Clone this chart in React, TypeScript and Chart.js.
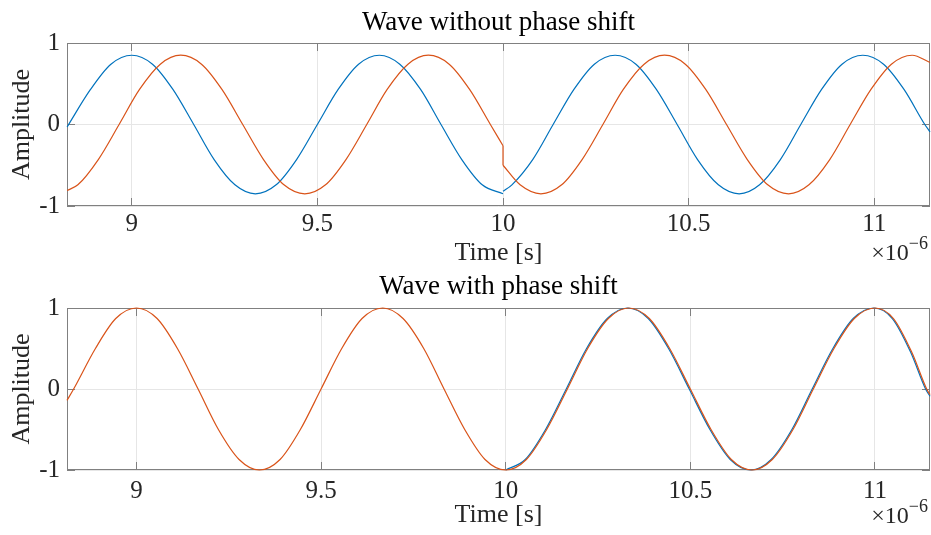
import React, { useEffect, useRef } from "react";
import { Chart, registerables } from "chart.js";

Chart.register(...registerables);

// ---------- text ----------
const TOP_TITLE = "Wave without phase shift";
const BOTTOM_TITLE = "Wave with phase shift";
const X_LABEL = "Time [s]";
const Y_LABEL = "Amplitude";
const X_EXP_BASE = "\u00d710";
const X_EXP_POWER = "\u22126";

// ---------- ticks (time in units of 1e-6 s) ----------
const xTickValues = [9, 9.5, 10, 10.5, 11];
const xTickLabels = ["9", "9.5", "10", "10.5", "11"];
const yTickValues = [-1, 0, 1];
const yTickLabels = ["-1", "0", "1"];

const topXRange = [8.8257, 11.15];
const bottomXRange = [8.812, 11.149];

// ---------- top plot: wave without phase shift ----------
const topBlueBeforeT = [8.826, 8.889, 8.944, 9.0, 9.056, 9.111, 9.167, 9.222, 9.278, 9.333, 9.389, 9.444, 9.5, 9.556, 9.611, 9.667, 9.722, 9.778, 9.833, 9.889, 9.944, 10.0];
const topBlueBeforeY = [-0.03, 0.43, 0.74, 0.85, 0.74, 0.43, 0, -0.43, -0.74, -0.85, -0.74, -0.43, 0, 0.43, 0.74, 0.85, 0.74, 0.43, 0, -0.43, -0.74, -0.85];

const topBlueAfterT = [10.0, 10.024, 10.08, 10.135, 10.191, 10.246, 10.302, 10.358, 10.413, 10.469, 10.524, 10.58, 10.636, 10.691, 10.747, 10.802, 10.858, 10.913, 10.969, 11.025, 11.08, 11.136, 11.15];
const topBlueAfterY = [-0.82, -0.74, -0.43, 0, 0.43, 0.74, 0.85, 0.74, 0.43, 0, -0.43, -0.74, -0.85, -0.74, -0.43, 0, 0.43, 0.74, 0.85, 0.74, 0.43, 0, -0.09];

const topOrangeBeforeT = [8.826, 8.855, 8.91, 8.966, 9.021, 9.077, 9.132, 9.188, 9.243, 9.299, 9.355, 9.41, 9.466, 9.522, 9.577, 9.633, 9.688, 9.744, 9.799, 9.855, 9.91, 9.966, 10.0];
const topOrangeBeforeY = [-0.81, -0.74, -0.43, 0, 0.43, 0.74, 0.85, 0.74, 0.43, 0, -0.43, -0.74, -0.85, -0.74, -0.43, 0, 0.43, 0.74, 0.85, 0.74, 0.43, 0, -0.26];

const topOrangeJumpT = [10.0, 10.0];
const topOrangeJumpY = [-0.26, -0.5];

const topOrangeAfterT = [10.0, 10.046, 10.102, 10.158, 10.213, 10.269, 10.324, 10.38, 10.435, 10.491, 10.546, 10.602, 10.658, 10.713, 10.769, 10.824, 10.88, 10.935, 10.991, 11.046, 11.102, 11.15];
const topOrangeAfterY = [-0.5, -0.74, -0.85, -0.74, -0.43, 0, 0.43, 0.74, 0.85, 0.74, 0.43, 0, -0.43, -0.74, -0.85, -0.74, -0.43, 0, 0.43, 0.74, 0.85, 0.76];

// ---------- bottom plot: wave with phase shift ----------
const bottomOrangeT = [8.812, 8.83, 8.889, 8.944, 9.0, 9.056, 9.111, 9.167, 9.222, 9.278, 9.333, 9.389, 9.444, 9.5, 9.556, 9.611, 9.667, 9.722, 9.778, 9.833, 9.889, 9.944, 10.0, 10.056, 10.111, 10.167, 10.222, 10.278, 10.333, 10.389, 10.444, 10.5, 10.556, 10.611, 10.667, 10.722, 10.778, 10.833, 10.889, 10.944, 11.0, 11.05, 11.1, 11.14, 11.149];
const bottomOrangeY = [-0.14, 0, 0.5, 0.87, 1, 0.87, 0.5, 0, -0.5, -0.87, -1, -0.87, -0.5, 0, 0.5, 0.87, 1, 0.87, 0.5, 0, -0.5, -0.87, -1, -0.87, -0.5, 0, 0.5, 0.87, 1, 0.87, 0.5, 0, -0.5, -0.87, -1, -0.87, -0.5, 0, 0.5, 0.87, 1, 0.87, 0.45, 0, -0.07];

const bottomBlueT = [10.0, 10.053, 10.108, 10.164, 10.219, 10.275, 10.33, 10.386, 10.441, 10.497, 10.553, 10.608, 10.664, 10.719, 10.775, 10.83, 10.886, 10.941, 10.997, 11.047, 11.097, 11.137, 11.149];
const bottomBlueY = [-1, -0.87, -0.5, 0, 0.5, 0.87, 1, 0.87, 0.5, 0, -0.5, -0.87, -1, -0.87, -0.5, 0, 0.5, 0.87, 1, 0.87, 0.45, 0, -0.09];

// ---------- style ----------
const BLUE = "#0072BD";
const ORANGE = "#D95319";
const GRID = "#e6e6e6";
const BOX = "#808080";
const TXT = "#262626";
const FONT = "'Liberation Serif', 'Times New Roman', serif";
const TICK_LEN = 8;

Chart.defaults.font.family = FONT;

const pts = (t: number[], y: number[]) => t.map((x, i) => ({ x, y: y[i] }));

const line = (label: string, t: number[], y: number[], color: string, order: number, smooth = true) => ({
  label,
  data: pts(t, y),
  borderColor: color,
  backgroundColor: color,
  borderWidth: 1.2,
  pointRadius: 0,
  fill: false,
  order,
  clip: 3,
  tension: 0,
  cubicInterpolationMode: smooth ? "monotone" : "default",
});

const align = (p: number) => Math.round(p - 0.5) + 0.5;

const framePlugin = {
  id: "matlabFrame",
  beforeDatasetsDraw(chart: any) {
    const { ctx, chartArea: a, scales } = chart;
    ctx.save();
    ctx.strokeStyle = BOX;
    ctx.lineWidth = 1;
    ctx.strokeRect(a.left + 0.5, a.top + 0.5, a.right - a.left - 1, a.bottom - a.top - 1);
    ctx.beginPath();
    for (const t of scales.x.ticks) {
      const px = align(scales.x.getPixelForValue(t.value));
      ctx.moveTo(px, a.bottom);
      ctx.lineTo(px, a.bottom - TICK_LEN);
      ctx.moveTo(px, a.top);
      ctx.lineTo(px, a.top + TICK_LEN);
    }
    for (const t of scales.y.ticks) {
      const py = align(scales.y.getPixelForValue(t.value));
      ctx.moveTo(a.left, py);
      ctx.lineTo(a.left + TICK_LEN, py);
      ctx.moveTo(a.right, py);
      ctx.lineTo(a.right - TICK_LEN, py);
    }
    ctx.stroke();
    ctx.restore();
  },
  afterDraw(chart: any, _args: any, opts: any) {
    const { ctx, chartArea: a } = chart;
    const baseY = chart.height - opts.expBottom;
    const right = a.right - 2;
    ctx.save();
    ctx.fillStyle = TXT;
    ctx.textBaseline = "alphabetic";
    ctx.textAlign = "right";
    ctx.font = `18px ${FONT}`;
    const wSup = ctx.measureText(X_EXP_POWER).width;
    ctx.fillText(X_EXP_POWER, right, baseY - 11);
    ctx.font = `24px ${FONT}`;
    ctx.fillText(X_EXP_BASE, right - wSup, baseY);
    ctx.restore();
  },
};

function makeConfig(opts: {
  title: string;
  titlePad: { top: number; bottom: number };
  xRange: number[];
  xScaleHeight: number;
  xTickPad: number;
  xTitlePadBottom: number;
  expBottom: number;
  datasets: any[];
}) {
  return {
    type: "line",
    data: { datasets: opts.datasets },
    plugins: [framePlugin],
    options: {
      animation: false,
      responsive: false,
      devicePixelRatio: 1,
      events: [],
      layout: { padding: { left: 0, right: 1, top: 0, bottom: 0 } },
      plugins: {
        legend: { display: false },
        tooltip: { enabled: false },
        title: {
          display: true,
          text: opts.title,
          fullSize: false,
          color: "#000",
          font: { family: FONT, size: 27, weight: "normal" },
          padding: opts.titlePad,
        },
        matlabFrame: { expBottom: opts.expBottom },
      },
      scales: {
        x: {
          type: "linear",
          position: "bottom",
          min: opts.xRange[0],
          max: opts.xRange[1],
          afterBuildTicks: (s: any) => {
            s.ticks = xTickValues.map((v) => ({ value: v }));
          },
          afterFit: (s: any) => {
            s.height = opts.xScaleHeight;
          },
          grid: { color: GRID, lineWidth: 1, drawTicks: false },
          border: { display: false },
          ticks: {
            callback: (_v: any, i: number) => xTickLabels[i],
            color: TXT,
            font: { family: FONT, size: 25 },
            padding: opts.xTickPad,
            maxRotation: 0,
            autoSkip: false,
          },
          title: {
            display: true,
            text: X_LABEL,
            color: TXT,
            font: { family: FONT, size: 26 },
            padding: { top: 0, bottom: opts.xTitlePadBottom },
          },
        },
        y: {
          type: "linear",
          position: "left",
          min: -1,
          max: 1,
          afterBuildTicks: (s: any) => {
            s.ticks = yTickValues.map((v) => ({ value: v }));
          },
          afterFit: (s: any) => {
            s.width = 67;
          },
          grid: { color: GRID, lineWidth: 1, drawTicks: false },
          border: { display: false },
          ticks: {
            callback: (_v: any, i: number) => yTickLabels[i],
            color: TXT,
            font: { family: FONT, size: 25 },
            padding: 7,
            autoSkip: false,
          },
          title: {
            display: true,
            text: Y_LABEL,
            color: TXT,
            font: { family: FONT, size: 26 },
            padding: { top: 7, bottom: 0 },
          },
        },
      },
    },
  };
}

export default function App() {
  const topRef = useRef<HTMLCanvasElement>(null);
  const bottomRef = useRef<HTMLCanvasElement>(null);

  useEffect(() => {
    const topCfg = makeConfig({
      title: TOP_TITLE,
      titlePad: { top: 6.5, bottom: 4.1 },
      xRange: topXRange,
      xScaleHeight: 64,
      xTickPad: 3,
      xTitlePadBottom: 1.5,
      expBottom: 10,
      datasets: [
        line("orange-before", topOrangeBeforeT, topOrangeBeforeY, ORANGE, 0),
        line("orange-jump", topOrangeJumpT, topOrangeJumpY, ORANGE, 0, false),
        line("orange-after", topOrangeAfterT, topOrangeAfterY, ORANGE, 0),
        line("blue-before", topBlueBeforeT, topBlueBeforeY, BLUE, 1),
        line("blue-after", topBlueAfterT, topBlueAfterY, BLUE, 1),
      ],
    });
    const bottomCfg = makeConfig({
      title: BOTTOM_TITLE,
      titlePad: { top: 0.7, bottom: 4.9 },
      xRange: bottomXRange,
      xScaleHeight: 65,
      xTickPad: 6,
      xTitlePadBottom: 4.5,
      expBottom: 11.7,
      datasets: [
        line("orange", bottomOrangeT, bottomOrangeY, ORANGE, 0),
        line("blue", bottomBlueT, bottomBlueY, BLUE, 1),
      ],
    });
    const c1 = new Chart(topRef.current as HTMLCanvasElement, topCfg as any);
    const c2 = new Chart(bottomRef.current as HTMLCanvasElement, bottomCfg as any);
    return () => {
      c1.destroy();
      c2.destroy();
    };
  }, []);

  return (
    <div style={{ position: "absolute", left: 0, top: 0, width: 931, height: 535, background: "#fff" }}>
      <canvas ref={topRef} width={931} height={270} style={{ position: "absolute", left: 0, top: 0 }} />
      <canvas ref={bottomRef} width={931} height={265} style={{ position: "absolute", left: 0, top: 270 }} />
    </div>
  );
}
